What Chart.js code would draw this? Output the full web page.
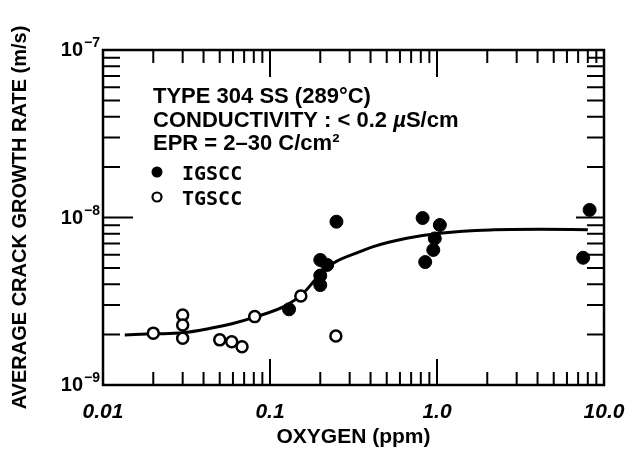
<!DOCTYPE html>
<html>
<head>
<meta charset="utf-8">
<script src="https://cdn.jsdelivr.net/npm/chart.js@4.4.1/dist/chart.umd.min.js"></script>
<style>
  html, body { margin: 0; padding: 0; background: #fff; }
  #wrap { width: 632px; height: 452px; }
</style>
</head>
<body>
<div id="wrap"><canvas id="c" width="632" height="452"></canvas></div>
<script>
// values: oxygen in ppm, crack growth rate in m/s
const igsccO2   = [0.13, 0.2, 0.22, 0.2, 0.2, 0.25, 0.82, 1.04, 0.97, 0.95, 0.85, 8.2, 7.5];
const igsccRate = [2.83e-9, 5.58e-9, 5.21e-9, 4.5e-9, 3.95e-9, 9.44e-9, 9.93e-9, 9.02e-9, 7.5e-9, 6.4e-9, 5.42e-9, 1.11e-8, 5.75e-9];

const tgsccO2   = [0.02, 0.03, 0.03, 0.03, 0.05, 0.059, 0.068, 0.081, 0.153, 0.248];
const tgsccRate = [2.04e-9, 2.62e-9, 2.28e-9, 1.9e-9, 1.86e-9, 1.81e-9, 1.69e-9, 2.56e-9, 3.4e-9, 1.96e-9];

// hand drawn trend curve
const fitO2   = [0.0135, 0.02, 0.03, 0.044, 0.06, 0.081, 0.126, 0.158, 0.19, 0.239, 0.346, 0.416, 0.659, 1.04, 2.07, 4.14, 8.0];
const fitRate = [1.99e-9, 2.02e-9, 2.05e-9, 2.18e-9, 2.33e-9, 2.54e-9, 3.0e-9, 3.53e-9, 4.33e-9, 5.33e-9, 6.25e-9, 6.7e-9, 7.51e-9, 8.05e-9, 8.43e-9, 8.5e-9, 8.45e-9];

const xTickValues = [0.01, 0.1, 1, 10];
const xTickLabels = ['0.01', '0.1', '1.0', '10.0'];
const yTickValues = [1e-9, 1e-8, 1e-7];
const yTickExps   = ['\u22129', '\u22128', '\u22127'];
const minorSteps  = [2, 3, 4, 5, 6, 7, 8, 9];

const noteLines = ['TYPE 304 SS (289°C)', 'CONDUCTIVITY : < 0.2 ', 'EPR = 2\u201330 C/cm²'];

const FONT = '"Liberation Sans", Arial, sans-serif';

function pairs(xs, ys) {
    return xs.map((x, i) => ({ x: x, y: ys[i] }));
}

function minors(min, max) {
    const out = [];
    for (let d = min; d < max * 0.999; d *= 10) {
        minorSteps.forEach(m => out.push(m * d));
    }
    return out;
}

// frame, inward ticks, y labels with exponents, notes box
const frame = {
    id: 'frame',
    beforeDatasetsDraw(chart) {
        const { ctx, chartArea: a, scales: { x, y } } = chart;
        ctx.save();
        ctx.strokeStyle = '#000';
        ctx.lineWidth = 2;
        ctx.beginPath();
        minors(0.01, 10).forEach(v => {
            const px = x.getPixelForValue(v);
            ctx.moveTo(px, a.bottom); ctx.lineTo(px, a.bottom - 13);
            ctx.moveTo(px, a.top); ctx.lineTo(px, a.top + 13);
        });
        [0.1, 1].forEach(v => {
            const px = x.getPixelForValue(v);
            ctx.moveTo(px, a.bottom); ctx.lineTo(px, a.bottom - 26);
            ctx.moveTo(px, a.top); ctx.lineTo(px, a.top + 27);
        });
        minors(1e-9, 1e-7).forEach(v => {
            const py = y.getPixelForValue(v);
            ctx.moveTo(a.left, py); ctx.lineTo(a.left + 17, py);
            ctx.moveTo(a.right, py); ctx.lineTo(a.right - 17, py);
        });
        const pm = y.getPixelForValue(1e-8);
        ctx.moveTo(a.left, pm); ctx.lineTo(a.left + 30, pm);
        ctx.moveTo(a.right, pm); ctx.lineTo(a.right - 28, pm);
        ctx.stroke();

        ctx.lineWidth = 2.5;
        ctx.strokeRect(a.left, a.top, a.right - a.left, a.bottom - a.top);
        ctx.restore();
    },
    afterDraw(chart) {
        const { ctx, chartArea: a, scales: { y } } = chart;
        ctx.save();
        ctx.fillStyle = '#000';
        ctx.textBaseline = 'alphabetic';

        // y tick labels 10^n
        yTickValues.forEach((v, i) => {
            const py = y.getPixelForValue(v);
            ctx.font = 'bold 14px ' + FONT;
            const ew = ctx.measureText(yTickExps[i]).width;
            ctx.textAlign = 'left';
            const ex = a.left - 3 - ew;
            ctx.fillText(yTickExps[i], ex, py - 3);
            ctx.font = 'bold 20px ' + FONT;
            ctx.textAlign = 'right';
            ctx.fillText('10', ex - 1, py + 6);
        });

        // notes
        ctx.textAlign = 'left';
        ctx.font = 'bold 22px ' + FONT;
        const nx = a.left + 50;
        ctx.fillText(noteLines[0], nx, 103);
        ctx.fillText(noteLines[1], nx, 127);
        let w = ctx.measureText(noteLines[1]).width;
        ctx.font = 'italic bold 22px ' + FONT;
        ctx.fillText('\u00b5', nx + w, 127);
        w += ctx.measureText('\u00b5').width;
        ctx.font = 'bold 22px ' + FONT;
        ctx.fillText('S/cm', nx + w, 127);
        ctx.fillText(noteLines[2], nx, 150);

        ctx.font = 'bold 20px "DejaVu Sans Mono", monospace';
        ctx.fillText('IGSCC', nx + 29, 180);
        ctx.fillText('TGSCC', nx + 29, 205);
        ctx.beginPath();
        ctx.arc(nx + 4, 172, 5.5, 0, Math.PI * 2);
        ctx.fill();
        ctx.beginPath();
        ctx.lineWidth = 2.2;
        ctx.arc(nx + 4, 197, 4.5, 0, Math.PI * 2);
        ctx.stroke();
        ctx.restore();
    }
};

new Chart(document.querySelector('#c').getContext('2d'), {
    type: 'scatter',
    data: {
        datasets: [
            {
                label: 'IGSCC',
                data: pairs(igsccO2, igsccRate),
                pointRadius: 6.5,
                backgroundColor: '#000',
                borderColor: '#000',
                borderWidth: 1
            },
            {
                label: 'TGSCC',
                data: pairs(tgsccO2, tgsccRate),
                pointRadius: 5.5,
                backgroundColor: '#fff',
                borderColor: '#000',
                borderWidth: 2.5
            },
            {
                label: 'trend',
                data: pairs(fitO2, fitRate),
                showLine: true,
                pointRadius: 0,
                borderColor: '#000',
                borderWidth: 3,
                cubicInterpolationMode: 'monotone',
                fill: false
            }
        ]
    },
    options: {
        responsive: false,
        animation: false,
        layout: { padding: { top: 50, right: 28, left: 0, bottom: 0 } },
        plugins: {
            legend: { display: false },
            tooltip: { enabled: false }
        },
        scales: {
            x: {
                type: 'logarithmic',
                min: 0.01,
                max: 10,
                grid: { display: false },
                border: { display: false },
                afterBuildTicks: s => { s.ticks = xTickValues.map(v => ({ value: v })); },
                afterFit: s => { s.height = 67; },
                ticks: {
                    autoSkip: false,
                    maxRotation: 0,
                    padding: 7,
                    color: '#000',
                    font: { family: FONT, size: 21, weight: 'bold', style: 'italic' },
                    callback: (v, i) => xTickLabels[i]
                },
                title: {
                    display: true,
                    text: 'OXYGEN (ppm)',
                    color: '#000',
                    padding: { top: 0, bottom: 2 },
                    font: { family: FONT, size: 21, weight: 'bold' }
                }
            },
            y: {
                type: 'logarithmic',
                min: 1e-9,
                max: 1e-7,
                grid: { display: false },
                border: { display: false },
                ticks: { display: false },
                afterFit: s => { s.width = 103; },
                title: {
                    display: true,
                    text: 'AVERAGE CRACK GROWTH RATE (m/s)',
                    color: '#000',
                    padding: { top: 8, bottom: 0 },
                    font: { family: FONT, size: 20, weight: 'bold' }
                }
            }
        }
    },
    plugins: [frame]
});
</script>
</body>
</html>
